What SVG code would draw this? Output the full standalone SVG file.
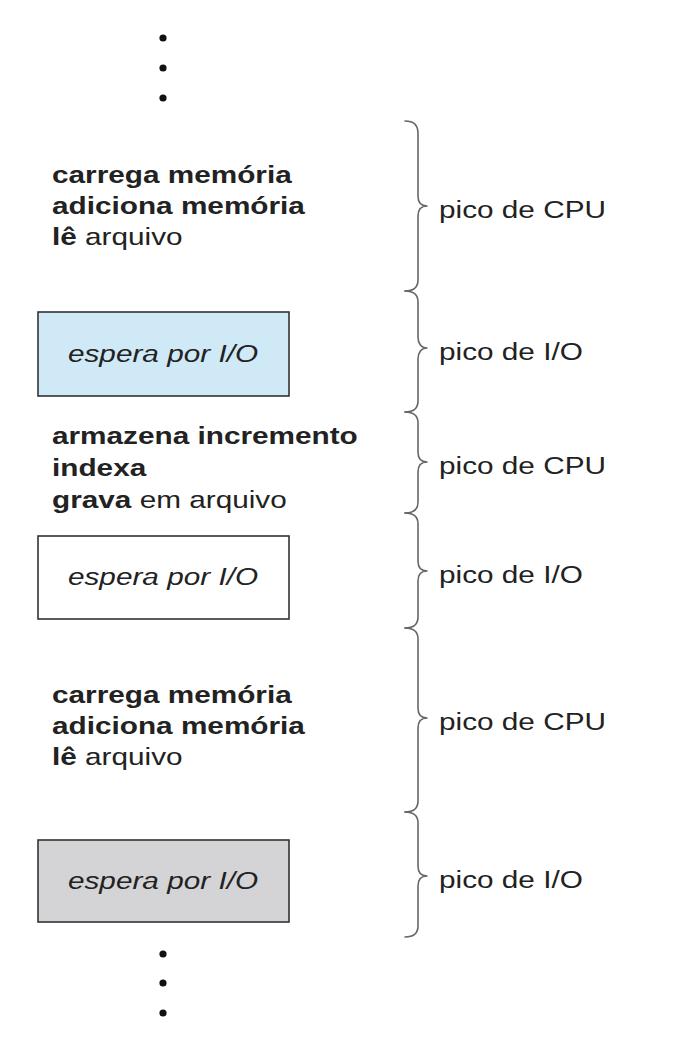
<svg xmlns="http://www.w3.org/2000/svg" width="696" height="1064" viewBox="0 0 696 1064">
<style>
text{font-family:"Liberation Sans",Arial,Helvetica,sans-serif;font-size:24px;fill:#222}
.b{font-weight:bold}
.i{font-style:italic}
.box{stroke:#333;stroke-width:1.6}
.brace{fill:none;stroke:#666;stroke-width:1.6;stroke-linejoin:round;stroke-linecap:round}
.dot{fill:#111}
</style>
<rect width="696" height="1064" fill="#fff"/>
<g id="dots-top">
<circle class="dot" cx="163" cy="38" r="3.6"/>
<circle class="dot" cx="163" cy="68" r="3.6"/>
<circle class="dot" cx="163" cy="98" r="3.6"/>
</g>
<g id="cpu1">
<text class="b" transform="translate(52,183) scale(1.24,1)">carrega memória</text>
<text class="b" transform="translate(52,214) scale(1.24,1)">adiciona memória</text>
<text transform="translate(52,245) scale(1.24,1)"><tspan class="b">lê</tspan> arquivo</text>
</g>
<g id="io1">
<rect class="box" x="38" y="312" width="251" height="84" fill="#d0e9f6"/>
<text class="i" text-anchor="middle" transform="translate(163,362) scale(1.24,1)">espera por I/O</text>
</g>
<g id="cpu2">
<text class="b" transform="translate(52,444) scale(1.24,1)">armazena incremento</text>
<text class="b" transform="translate(52,476) scale(1.24,1)">indexa</text>
<text transform="translate(52,508) scale(1.24,1)"><tspan class="b">grava</tspan> em arquivo</text>
</g>
<g id="io2">
<rect class="box" x="38" y="536" width="251" height="83" fill="#fff"/>
<text class="i" text-anchor="middle" transform="translate(163,585) scale(1.24,1)">espera por I/O</text>
</g>
<g id="cpu3">
<text class="b" transform="translate(52,703) scale(1.24,1)">carrega memória</text>
<text class="b" transform="translate(52,734) scale(1.24,1)">adiciona memória</text>
<text transform="translate(52,765) scale(1.24,1)"><tspan class="b">lê</tspan> arquivo</text>
</g>
<g id="io3">
<rect class="box" x="38" y="840" width="251" height="82" fill="#d4d4d6"/>
<text class="i" text-anchor="middle" transform="translate(163,889) scale(1.24,1)">espera por I/O</text>
</g>
<g id="dots-bottom">
<circle class="dot" cx="163" cy="954" r="3.6"/>
<circle class="dot" cx="163" cy="983" r="3.6"/>
<circle class="dot" cx="163" cy="1013" r="3.6"/>
</g>
<g id="braces">
<path class="brace" d="M405,121 C414,121 418,125 418,133 L418,196 C418,202 421,206 427,206 C421,206 418,210 418,216 L418,280 C418,287 414,291 405,291"/>
<path class="brace" d="M405,291 C414,291 418,295 418,302 L418,337 C418,343 421,348 427,348 C421,348 418,353 418,359 L418,401 C418,408 414,412 405,412"/>
<path class="brace" d="M405,412 C414,412 418,416 418,423 L418,452 C418,458 421,462 427,462 C421,462 418,466 418,472 L418,502 C418,509 414,513 405,513"/>
<path class="brace" d="M405,513 C414,513 418,517 418,524 L418,561 C418,567 421,571 427,571 C421,571 418,575 418,581 L418,617 C418,624 414,628 405,628"/>
<path class="brace" d="M405,628 C414,628 418,632 418,639 L418,708 C418,714 421,718 427,718 C421,718 418,722 418,728 L418,801 C418,808 414,812 405,812"/>
<path class="brace" d="M405,812 C414,812 418,816 418,823 L418,866 C418,872 421,876 427,876 C421,876 418,880 418,886 L418,926 C418,933 414,937 405,937"/>
</g>
<g id="labels">
<text transform="translate(439,218) scale(1.24,1)">pico de CPU</text>
<text transform="translate(439,360) scale(1.24,1)">pico de I/O</text>
<text transform="translate(439,474) scale(1.24,1)">pico de CPU</text>
<text transform="translate(439,583) scale(1.24,1)">pico de I/O</text>
<text transform="translate(439,730) scale(1.24,1)">pico de CPU</text>
<text transform="translate(439,888) scale(1.24,1)">pico de I/O</text>
</g>
</svg>
